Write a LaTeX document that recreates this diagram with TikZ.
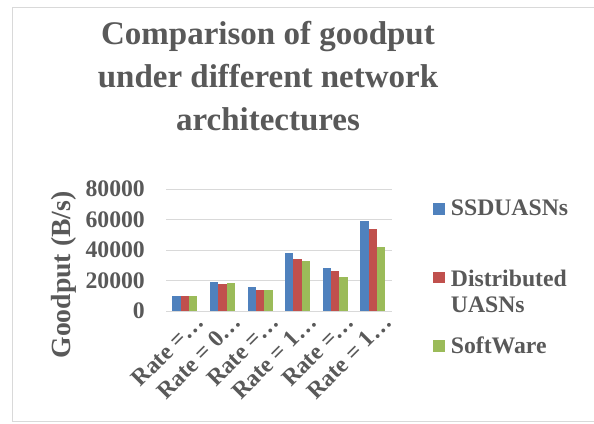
\documentclass[tikz,border=0pt]{standalone}
\usepackage{fontspec}
\setmainfont{Liberation Serif}
\definecolor{txt}{HTML}{595959}
\definecolor{gridc}{HTML}{D9D9D9}
\definecolor{cblue}{HTML}{4F81BD}
\definecolor{cred}{HTML}{C0504D}
\definecolor{cgreen}{HTML}{9BBB59}
\begin{document}
\begin{tikzpicture}[x=1pt,y=-1pt,
  lbl/.style={text=txt,font=\bfseries\fontsize{23.7}{28}\selectfont,inner sep=0pt},
  ttl/.style={text=txt,font=\bfseries\fontsize{33}{40}\selectfont,inner sep=0pt,anchor=base},
  axttl/.style={text=txt,font=\bfseries\fontsize{27.7}{32}\selectfont,inner sep=0pt},
  gridline/.style={draw=gridc,line width=1pt},
  frameline/.style={draw=gridc,line width=1pt}]
\useasboundingbox (0,0) rectangle (594,423);
\fill[white] (0,0) rectangle (594,423);
\draw[frameline] (600,7.3) -- (12,7.3) -- (12,421.5) -- (600,421.5);
% title
\node[ttl] (t1) at (268,44.3) {Comparison of goodput};
\node[ttl] (t2) at (268,87.3) {under different network};
\node[ttl] (t3) at (268,130.7) {architectures};
% grid
\foreach \i in {0,...,4}
  \draw[gridline] (166,{311-30.5*\i}) -- (391.7,{311-30.5*\i});
\foreach \i/\t in {0/0,1/20000,2/40000,3/60000,4/80000}
  \node[lbl,anchor=east] (yt\i) at (145,{311-30.5*\i}) {\t};
% y axis title
\node[axttl,rotate=90] (ytitle) at (64,275) {Goodput (B/s)};
% bars (values in thousands)
\foreach \v [count=\k from 0] in {10,19,16,38,28,59}
  \fill[cblue] ({166+37.62*\k+6.27},311) rectangle ++(8.36,{-\v*1.525});
\foreach \v [count=\k from 0] in {10,18,14,34,26,54}
  \fill[cred] ({166+37.62*\k+6.27+8.36},311) rectangle ++(8.36,{-\v*1.525});
\foreach \v [count=\k from 0] in {10,18.5,14,33,22,42}
  \fill[cgreen] ({166+37.62*\k+6.27+16.72},311) rectangle ++(8.36,{-\v*1.525});
% x labels
\foreach \t [count=\k from 0] in {Rate =…,Rate = 0…,Rate =…,Rate = 1…,Rate =…,Rate = 1…}
  \node[lbl,rotate=45,anchor=base east] (xl\k) at ({166+37.62*(\k+0.5)+20.3},323.5) {\t};
% legend
\fill[cblue] (433,203.3) rectangle (445,214.7);
\node[lbl,anchor=base west] (lg1) at (450.7,215.7) {SSDUASNs};
\fill[cred] (433,271.7) rectangle (445,283.3);
\node[lbl,anchor=base west] (lg2a) at (450.7,286) {Distributed};
\node[lbl,anchor=base west] (lg2b) at (450.7,312.7) {UASNs};
\fill[cgreen] (433,340) rectangle (445,351.7);
\node[lbl,anchor=base west] (lg3) at (450.7,353.3) {SoftWare};
\end{tikzpicture}
\end{document}
